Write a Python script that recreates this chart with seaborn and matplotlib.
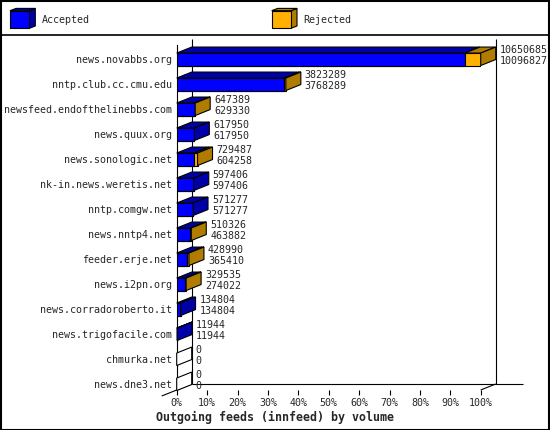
import numpy as np
import pandas as pd
import matplotlib
matplotlib.use("Agg")
import matplotlib.pyplot as plt
import seaborn as sns
from matplotlib.patches import Polygon, Rectangle
from matplotlib.lines import Line2D

# ---------------- data ----------------
hosts = [
    "news.novabbs.org", "nntp.club.cc.cmu.edu", "newsfeed.endofthelinebbs.com",
    "news.quux.org", "news.sonologic.net", "nk-in.news.weretis.net",
    "nntp.comgw.net", "news.nntp4.net", "feeder.erje.net", "news.i2pn.org",
    "news.corradoroberto.it", "news.trigofacile.com", "chmurka.net", "news.dne3.net",
]
# upper number of each pair (extent of the orange bar)
rejected_extent = [10650685, 3823289, 647389, 617950, 729487, 597406, 571277,
                   510326, 428990, 329535, 134804, 11944, 0, 0]
# lower number of each pair (extent of the blue bar)
accepted = [10096827, 3768289, 629330, 617950, 604258, 597406, 571277,
            463882, 365410, 274022, 134804, 11944, 0, 0]
tick_pcts = [0, 10, 20, 30, 40, 50, 60, 70, 80, 90, 100]
series_names = ["Accepted", "Rejected"]
title_text = "Outgoing feeds (innfeed) by volume"

# ---------------- style ----------------
BLUE, BLUE_D = "#0000ff", "#0000a8"
ORANGE, BROWN = "#ffb000", "#b07c00"
LW = 0.8
FS = 7.2

sns.set_style("white")
plt.rcParams["font.family"] = ["DejaVu Sans Mono", "DejaVu Sans"]

W, H = 550, 430
fig = plt.figure(figsize=(W / 100, H / 100), dpi=100)


def fx(px):
    return px / W


def fy(py):
    return 1 - py / H


x0_px, x100_px = 176.7, 480.7
ytop_px, ybot_px = 45.0, 390.0
ax = fig.add_axes([fx(x0_px), fy(ybot_px), (x100_px - x0_px) / W, (ybot_px - ytop_px) / H])

vmax = max(rejected_extent)
df = pd.DataFrame({
    "host": hosts,
    "acc": np.array(accepted) / vmax * 100,
    "tot": np.array(rejected_extent) / vmax * 100,
})

px_x = 100 / (x100_px - x0_px)      # data units per pixel (x)
row_px = 25.0
row0_px = 59.3
ylim_bot = (ybot_px - row0_px) / row_px
ylim_top = (ytop_px - row0_px) / row_px
DX = 15 * px_x
DY = -6 / row_px
BH = 0.5

sns.barplot(data=df, x="tot", y="host", orient="h", color=ORANGE, width=BH,
            edgecolor="black", linewidth=LW, saturation=1, errorbar=None,
            ax=ax, zorder=3)
sns.barplot(data=df, x="acc", y="host", orient="h", color=BLUE, width=BH,
            edgecolor="black", linewidth=LW, saturation=1, errorbar=None,
            ax=ax, zorder=4)

# 3D top / side faces
for i, (a, t) in enumerate(zip(df["acc"], df["tot"])):
    yt, yb = i - BH / 2, i + BH / 2
    if t == 0:
        ax.add_patch(Polygon([(0, yt), (DX, yt + DY), (DX, yb + DY), (0, yb)],
                             closed=True, facecolor="white", edgecolor="black",
                             lw=LW, zorder=5, clip_on=False))
        continue
    if a > 0:
        ax.add_patch(Polygon([(0, yt), (a, yt), (a + DX, yt + DY), (DX, yt + DY)],
                             closed=True, facecolor=BLUE_D, edgecolor="black",
                             lw=LW, zorder=5, clip_on=False))
    if t > a:
        ax.add_patch(Polygon([(a, yt), (t, yt), (t + DX, yt + DY), (a + DX, yt + DY)],
                             closed=True, facecolor=BROWN, edgecolor="black",
                             lw=LW, zorder=5, clip_on=False))
        ax.add_patch(Polygon([(t, yt), (t + DX, yt + DY), (t + DX, yb + DY), (t, yb)],
                             closed=True, facecolor=BROWN, edgecolor="black",
                             lw=LW, zorder=5, clip_on=False))
    else:
        ax.add_patch(Polygon([(a, yt), (a + DX, yt + DY), (a + DX, yb + DY), (a, yb)],
                             closed=True, facecolor=BLUE_D, edgecolor="black",
                             lw=LW, zorder=5, clip_on=False))

# value labels
for i, (t_val, a_val, t) in enumerate(zip(rejected_extent, accepted, df["tot"])):
    xl = t + DX + 4 * px_x
    ax.text(xl, i - 0.37, f"{t_val}", ha="left", va="center", fontsize=FS, zorder=6, clip_on=False)
    ax.text(xl, i + 0.06, f"{a_val}", ha="left", va="center", fontsize=FS, zorder=6, clip_on=False)

# back frame of the 3D box
kw = dict(color="black", lw=LW, zorder=1, clip_on=False, solid_capstyle="butt")
ax.add_line(Line2D([DX, DX], [ylim_top + DY, ylim_bot + DY], **kw))
ax.add_line(Line2D([100 + DX, 100 + DX], [ylim_top + DY, ylim_bot + DY], **kw))
ax.add_line(Line2D([DX, (522.7 - x0_px) * px_x], [ylim_bot + DY, ylim_bot + DY], **kw))
ax.add_line(Line2D([100, 100 + DX], [ylim_bot, ylim_bot + DY], **kw))
ax.add_line(Line2D([-DX, DX], [ylim_bot - DY, ylim_bot + DY], **kw))

ax.set_xlim(0, 100)
ax.set_ylim(ylim_bot, ylim_top)
ax.set_facecolor("none")
for s in ["top", "right", "bottom"]:
    ax.spines[s].set_visible(False)
ax.spines["left"].set_color("black")
ax.spines["left"].set_linewidth(LW)
ax.set_xticks(tick_pcts)
ax.set_xticklabels([f"{v}%" for v in tick_pcts])
ax.tick_params(axis="x", length=3.6, width=LW, pad=2.5, labelsize=FS, color="black", bottom=True)
ax.tick_params(axis="y", length=0, pad=3.2, labelsize=FS, left=False)
ax.set_xlabel("")
ax.set_ylabel("")

# title
fig.text(fx(156), fy(417.3), title_text, ha="left", va="center",
         fontsize=8.4, fontweight="bold")

# legend (cube keys)
def cube(xl, front, side):
    xr = xl + 19.3
    ytp, ybt = 10.7, 28.3
    d_x, d_y = 6.0, -2.3
    pts_front = [(xl, ytp), (xr, ytp), (xr, ybt), (xl, ybt)]
    pts_top = [(xl, ytp), (xr, ytp), (xr + d_x, ytp + d_y), (xl + d_x, ytp + d_y)]
    pts_side = [(xr, ytp), (xr + d_x, ytp + d_y), (xr + d_x, ybt + d_y), (xr, ybt)]
    for pts, c in [(pts_side, side), (pts_top, side), (pts_front, front)]:
        fig.add_artist(Polygon([(fx(p), fy(q)) for p, q in pts], closed=True,
                               facecolor=c, edgecolor="black", lw=LW,
                               transform=fig.transFigure))

cube(10, BLUE, BLUE_D)
fig.text(fx(42.3), fy(20), series_names[0], ha="left", va="center", fontsize=FS)
cube(271.7, ORANGE, BROWN)
fig.text(fx(303.3), fy(20), series_names[1], ha="left", va="center", fontsize=FS)

# separator and outer border
fig.add_artist(Line2D([0, 1], [fy(35), fy(35)], color="black", lw=1.2, transform=fig.transFigure))
fig.add_artist(Rectangle((0.001, 0.001), 0.997, 0.997, fill=False, edgecolor="black",
                         lw=1.5, transform=fig.transFigure))

fig.savefig("out.png", dpi=100)
